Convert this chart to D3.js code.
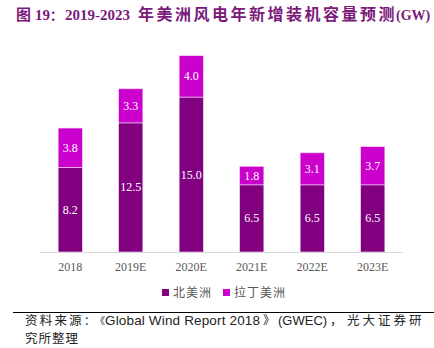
<!DOCTYPE html>
<html>
<head>
<meta charset="utf-8">
<script src="https://cdn.jsdelivr.net/npm/d3@7"></script>
<style>
  body { margin: 0; background: #fff; }
  svg { display: block; }
</style>
</head>
<body>
<svg id="chart" width="434" height="348"></svg>
<script>
// data
var years = ['2018', '2019E', '2020E', '2021E', '2022E', '2023E'];
var northAmerica = [8.2, 12.5, 15.0, 6.5, 6.5, 6.5];
var latinAmerica = [3.8, 3.3, 4.0, 1.8, 3.1, 3.7];
var seriesNames = ['北美洲', '拉丁美洲'];
var seriesColors = ['#800080', '#CC00CC'];

var svg = d3.select('#chart');
var serif = '"Liberation Serif", "Times New Roman", serif';
var cjk = '"Noto Sans CJK SC", sans-serif';
var sans = '"Liberation Sans", Arial, sans-serif';

// title, split into pieces so the CJK run can be spaced like the original
var title = svg.append('text')
    .attr('y', 20)
    .attr('fill', '#7B1A7B')
    .attr('font-weight', 'bold')
    .attr('font-size', 15);
title.append('tspan').attr('x', 16).attr('font-family', cjk).text('图');
title.append('tspan').attr('x', 35).attr('font-family', serif).text('19');
title.append('tspan').attr('x', 50).attr('font-size', 13).attr('font-family', cjk).text('：');
title.append('tspan').attr('x', 65).attr('font-family', serif).text('2019-2023');
title.append('tspan').attr('x', 138).attr('font-family', cjk)
    .attr('font-size', 16)
    .attr('letter-spacing', 2.5)
    .text('年美洲风电年新增装机容量预测');
title.append('tspan').attr('x', 396).attr('font-size', 14).attr('font-family', serif)
    .text('(GW)');

var x = d3.scaleBand()
    .domain(years)
    .range([40, 403])
    .paddingInner(0.6)
    .paddingOuter(0.3);

var y = d3.scaleLinear()
    .domain([0, 20])
    .range([252, 45.4]);

// stack
var rows = years.map(function (yr, i) {
    return {year: yr, na: northAmerica[i], la: latinAmerica[i]};
});
var stack = d3.stack().keys(['na', 'la'])(rows);

var layers = svg.selectAll('g.layer')
    .data(stack).enter().append('g')
    .attr('class', 'layer')
    .attr('fill', function (d, i) { return seriesColors[i]; });

layers.selectAll('rect')
    .data(function (d) { return d; })
    .enter().append('rect')
    .attr('x', function (d) { return x(d.data.year); })
    .attr('width', x.bandwidth())
    .attr('y', function (d) { return y(d[1]); })
    .attr('height', function (d) { return y(d[0]) - y(d[1]); })
    .attr('stroke', '#f2d9f2')
    .attr('stroke-width', 0.6);

// value labels
layers.selectAll('text')
    .data(function (d) { return d; })
    .enter().append('text')
    .attr('x', function (d) { return x(d.data.year) + x.bandwidth() / 2; })
    .attr('y', function (d) { return (y(d[0]) + y(d[1])) / 2 + 4; })
    .attr('text-anchor', 'middle')
    .attr('fill', '#fff')
    .attr('font-size', 12)
    .attr('font-family', serif)
    .text(function (d) { return (d[1] - d[0]).toFixed(1); });

// x axis
var xAxis = svg.append('g')
    .attr('transform', 'translate(0,252)')
    .call(d3.axisBottom(x).tickSize(0).tickPadding(10));
xAxis.select('.domain')
    .attr('d', 'M40,0.5H403')
    .attr('stroke', '#d9d9d9');
xAxis.selectAll('text')
    .attr('fill', '#595959')
    .attr('font-size', 12)
    .attr('font-family', serif);

// legend
var legendX = [159, 220];
var legend = svg.selectAll('g.legend')
    .data(seriesNames).enter().append('g')
    .attr('class', 'legend')
    .attr('transform', function (d, i) { return 'translate(' + legendX[i] + ',294)'; });
legend.append('rect')
    .attr('x', 3).attr('y', -5)
    .attr('width', 7).attr('height', 7)
    .attr('fill', function (d, i) { return seriesColors[i]; });
legend.append('text')
    .attr('x', 14)
    .attr('y', 3)
    .attr('fill', '#595959')
    .attr('font-size', 12)
    .attr('letter-spacing', 1)
    .attr('font-family', cjk)
    .text(function (d) { return d; });

// source
svg.append('line')
    .attr('x1', 13).attr('x2', 434)
    .attr('y1', 312.5).attr('y2', 312.5)
    .attr('stroke', '#000')
    .attr('stroke-width', 1);

var src = svg.append('text')
    .attr('y', 324.5)
    .attr('font-size', 12.5)
    .attr('fill', '#222');
src.append('tspan').attr('x', 25).attr('font-family', cjk)
    .attr('letter-spacing', 2.2).text('资料来源');
src.append('tspan').attr('x', 84).attr('font-size', 11).attr('font-family', cjk).text('：');
src.append('tspan').attr('x', 95).attr('font-size', 10).attr('font-family', cjk).text('《');
src.append('tspan').attr('x', 105).attr('font-family', sans).attr('font-size', 13.5)
    .attr('textLength', 155).attr('lengthAdjust', 'spacing')
    .text('Global Wind Report 2018');
src.append('tspan').attr('x', 263).attr('font-size', 12).attr('font-family', cjk).text('》');
src.append('tspan').attr('x', 278).attr('font-family', sans).attr('font-size', 13)
    .text('(GWEC)');
src.append('tspan').attr('x', 330).attr('font-family', cjk).text('，');
src.append('tspan').attr('x', 347).attr('font-family', cjk)
    .attr('letter-spacing', 3)
    .text('光大证券研');

svg.append('text')
    .attr('x', 25)
    .attr('y', 343)
    .attr('font-size', 12.5)
    .attr('letter-spacing', 1)
    .attr('fill', '#222')
    .attr('font-family', cjk)
    .text('究所整理');
</script>
</body>
</html>
